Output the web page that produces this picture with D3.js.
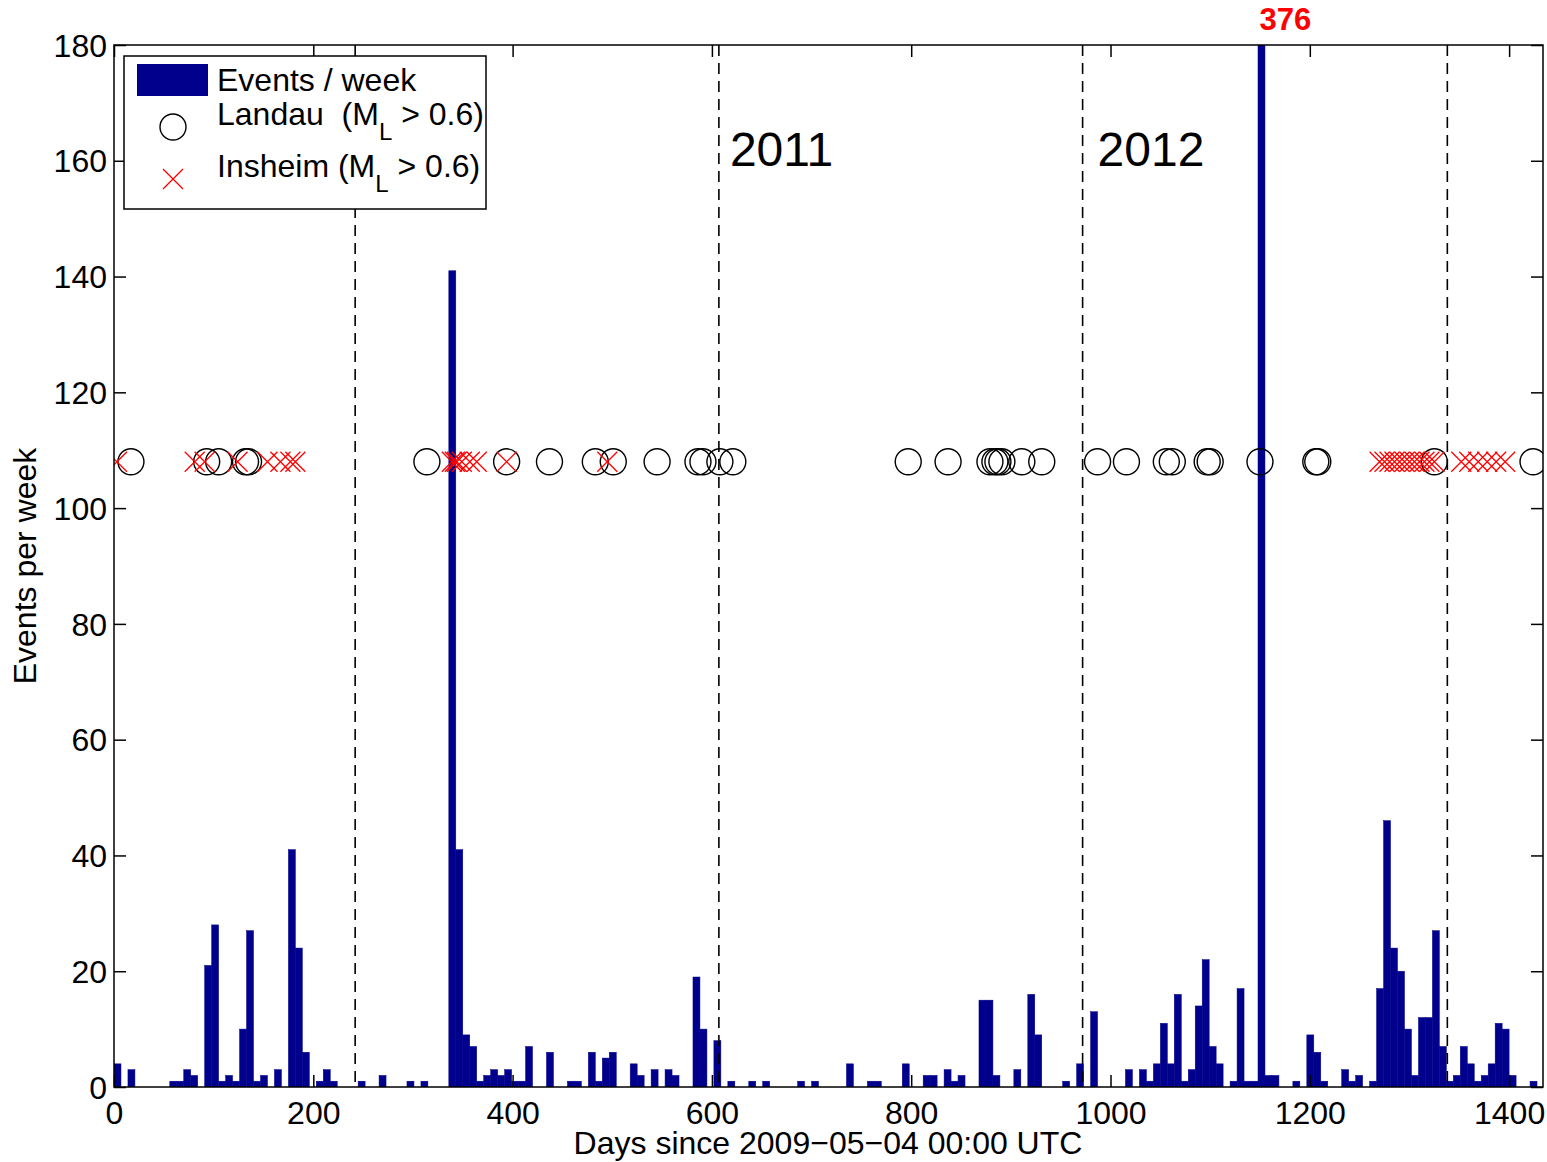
<!DOCTYPE html>
<html><head><meta charset="utf-8">
<script src="https://cdn.jsdelivr.net/npm/d3@7"></script>
<style>body{margin:0;background:#fff}svg{display:block}text{font-family:"Liberation Sans",Arial,sans-serif}</style>
</head><body>
<svg id="c" width="1547" height="1162"></svg>
<script>
// Weekly event counts, bin k covers days [7k, 7k+7)
const weekCounts = [
 4,0,3,0,0,0,0,0,1,1, 3,2,0,21,28,1,2,1,10,27,
 1,2,0,3,0,41,24,6,0,1, 3,1,0,0,0,1,0,0,2,0,
 0,0,1,0,1,0,0,0,141,41, 9,7,1,2,3,2,3,1,1,7,
 0,0,6,0,0,1,1,0,6,1, 5,6,0,0,4,2,0,3,0,3,
 2,0,0,19,10,0,8,0,1,0, 0,1,0,1,0,0,0,0,1,0,
 1,0,0,0,0,4,0,0,1,1, 0,0,0,4,0,0,2,2,0,3,
 1,2,0,0,15,15,2,0,0,3, 0,16,9,0,0,0,1,0,4,0,
 13,0,0,0,0,3,0,3,1,4, 11,4,16,1,3,14,22,7,4,0,
 1,17,1,1,376,2,2,0,0,1, 0,9,6,1,0,0,3,1,2,0,
 1,17,46,24,20,10,2,12,12,27, 7,1,2,7,4,1,2,4,11,10,
 2,0,0,1
];
const binDays = 7;
// Landau events (M_L > 0.6), day of event
const landauDays = [17,93,105,132,135,314,394,437,483,501,545,586,591,608,621,
  797,837,879,884,887,891,911,931,987,1016,1056,1062,1097,1100,1150,1206,1208,1325,1424];
// Insheim events (M_L > 0.6), day of event
const insheimDays = [3,81,91,124,154,167,177,182,339,342,344,349,357,364,394,495,
  1270,1275,1280,1285,1290,1295,1300,1305,1310,1315,1320,1325,1352,1360,1369,1378,1387,1396];
const markerLevel = 108;
// Year boundaries (days since 2009-05-04)
const yearLines = [242, 607, 972, 1338];
const yearLabels = [{day: 607, text: "2011"}, {day: 972, text: "2012"}];
const xTicks = [0,200,400,600,800,1000,1200,1400];
const yTicks = [0,20,40,60,80,100,120,140,160,180];
const xDomain = [0, 1434];
const yDomain = [0, 180];

const FS = 32;
const svg = d3.select("#c");
const L = 114, R = 1543, T = 45, B = 1087;
const x = d3.scaleLinear().domain(xDomain).range([L, R]);
const y = d3.scaleLinear().domain(yDomain).range([B, T]);

svg.append("defs").append("clipPath").attr("id","clip")
  .append("rect").attr("x",L).attr("y",T).attr("width",R-L).attr("height",B-T);

const plot = svg.append("g").attr("clip-path","url(#clip)");

// bars
plot.selectAll("rect.bar").data(weekCounts).join("rect")
  .attr("class","bar")
  .attr("x",(d,i)=>x(i*binDays))
  .attr("width",x(binDays)-x(0))
  .attr("y",d=>y(Math.min(d,yDomain[1]+5)))
  .attr("height",d=>y(0)-y(Math.min(d,yDomain[1]+5)))
  .attr("fill","#00008c")
  .attr("stroke","#00008c").attr("stroke-width",0.5)
  .style("display",d=>d>0?null:"none");

// year lines
plot.selectAll("line.yr").data(yearLines).join("line")
  .attr("x1",d=>x(d)).attr("x2",d=>x(d)).attr("y1",T).attr("y2",B)
  .attr("stroke","#000").attr("stroke-width",1.6).attr("stroke-dasharray","11,7");

// landau circles
plot.selectAll("circle.ld").data(landauDays).join("circle")
  .attr("cx",d=>x(d)).attr("cy",y(markerLevel)).attr("r",13)
  .attr("fill","none").attr("stroke","#000").attr("stroke-width",1.4);

// insheim crosses
const cs = 10;
plot.selectAll("path.ins").data(insheimDays).join("path")
  .attr("d",d=>{const cx=x(d), cy=y(markerLevel);
    return `M${cx-cs},${cy-cs}L${cx+cs},${cy+cs}M${cx-cs},${cy+cs}L${cx+cs},${cy-cs}`;})
  .attr("stroke","#ff0000").attr("stroke-width",1.3).attr("fill","none");

// year labels
svg.selectAll("text.yl").data(yearLabels).join("text")
  .attr("x",(d,i)=>x(d.day)+(i===0?11:15)).attr("y",166).attr("font-size",48).text(d=>d.text);

// overflow label
weekCounts.forEach((d,i)=>{ if(d>yDomain[1]){
  svg.append("text").attr("x",x(i*binDays+3.5)+24).attr("y",30).attr("text-anchor","middle")
    .attr("font-size",31).attr("font-weight","bold").attr("fill","#ff0000").text(d);
}});

// axes box
svg.append("rect").attr("x",L).attr("y",T).attr("width",R-L).attr("height",B-T)
  .attr("fill","none").attr("stroke","#000").attr("stroke-width",1.5);

const tl = 12;
const fmt = d3.format("d");
const axB = svg.append("g").attr("transform",`translate(0,${B})`)
  .call(d3.axisBottom(x).tickValues(xTicks).tickFormat(fmt).tickSizeInner(-tl).tickSizeOuter(0).tickPadding(14));
const axT = svg.append("g").attr("transform",`translate(0,${T})`)
  .call(d3.axisTop(x).tickValues(xTicks).tickSizeInner(-tl).tickSizeOuter(0).tickFormat(""));
const axL = svg.append("g").attr("transform",`translate(${L},0)`)
  .call(d3.axisLeft(y).tickValues(yTicks).tickFormat(fmt).tickSizeInner(-tl).tickSizeOuter(0).tickPadding(7));
const axR = svg.append("g").attr("transform",`translate(${R},0)`)
  .call(d3.axisRight(y).tickValues(yTicks).tickSizeInner(-tl).tickSizeOuter(0).tickFormat(""));
[axB,axT,axL,axR].forEach(a=>{
  a.select(".domain").remove();
  a.selectAll(".tick line").attr("stroke","#000").attr("stroke-width",1.5);
  a.selectAll(".tick text").attr("font-size",FS).attr("fill","#000")
   .style("font-family",'"Liberation Sans",Arial,sans-serif');
});
axB.selectAll(".tick text").attr("dy","0.71em");
axL.selectAll(".tick text").attr("dy","0.35em");

// axis titles
svg.append("text").attr("x",828).attr("y",1154).attr("text-anchor","middle")
  .attr("font-size",FS).text("Days since 2009\u221205\u221204 00:00 UTC");
svg.append("text").attr("transform",`translate(36,${(T+B)/2}) rotate(-90)`)
  .attr("text-anchor","middle").attr("font-size",FS).text("Events per week");

// legend
const lg = svg.append("g");
lg.append("rect").attr("x",124).attr("y",56).attr("width",362).attr("height",153)
  .attr("fill","#fff").attr("stroke","#000").attr("stroke-width",1.5);
lg.append("rect").attr("x",137).attr("y",64).attr("width",71).attr("height",32).attr("fill","#00008c");
lg.append("text").attr("x",217).attr("y",91).attr("font-size",FS).text("Events / week");
lg.append("circle").attr("cx",173).attr("cy",127).attr("r",13).attr("fill","none")
  .attr("stroke","#000").attr("stroke-width",1.4);
const t1 = lg.append("text").attr("x",217).attr("y",125).attr("font-size",FS).attr("xml:space","preserve");
t1.append("tspan").text("Landau  (M");
t1.append("tspan").attr("font-size",24).attr("dy",15).text("L");
t1.append("tspan").attr("dy",-15).text(" > 0.6)");
lg.append("path").attr("d","M163,169L183,189M163,189L183,169").attr("stroke","#ff0000").attr("stroke-width",1.3);
const t2 = lg.append("text").attr("x",217).attr("y",177).attr("font-size",FS).attr("xml:space","preserve");
t2.append("tspan").text("Insheim (M");
t2.append("tspan").attr("font-size",24).attr("dy",15).text("L");
t2.append("tspan").attr("dy",-15).text(" > 0.6)");
</script>
</body></html>
